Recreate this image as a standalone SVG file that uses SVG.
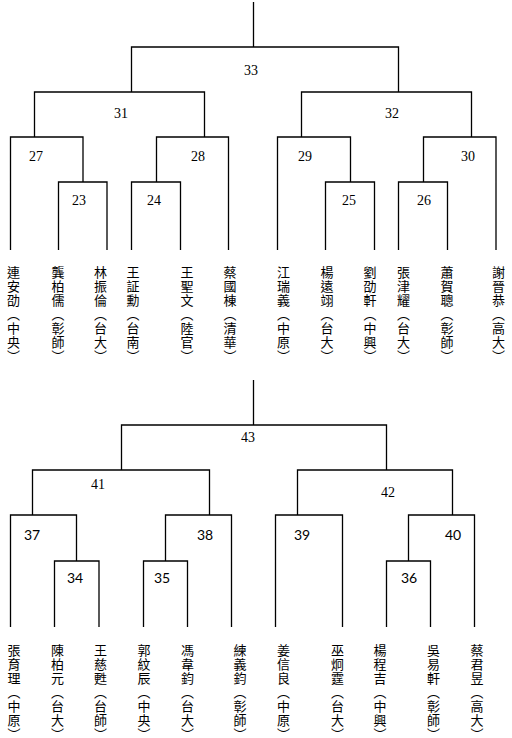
<svg xmlns="http://www.w3.org/2000/svg" width="512" height="738" viewBox="0 0 512 738">
<style>
.ln{fill:none;stroke:#000;stroke-width:1.3}
.ns{font-family:"Liberation Serif","Times New Roman",serif;font-size:14px;text-anchor:middle;fill:#000}
.nn{font-family:Lato,"Liberation Sans",sans-serif;font-size:14px;text-anchor:middle;fill:#000}
.pl{font-family:"Noto Sans CJK TC","Noto Sans CJK JP",sans-serif;font-size:13px;letter-spacing:1px;writing-mode:vertical-rl;fill:#000}
</style>
<rect width="512" height="738" fill="#fff"/>
<g id="connectors">
<path class="ln" d="M253.5 2V47M131.5 92V47H398.5V92M34.5 137V92H204.5V137M301.5 137V92H471.5V137M10.5 250V137H83V182M58.5 250V182H107V250M131.5 250V182H180.5V250M156.5 182V137H228.5V250M277.5 250V137H350.5V182M325.5 250V182H374.5V250M398.5 250V182H447.5V250M423.5 182V137H496V250"/>
<path class="ln" d="M253.5 380V425M121.5 470V425H386.5V470M32.5 515V470H209.5V515M297.5 515V470H452.5V515M10.5 627V515H76.5V561M54.5 627V561H99V627M165.5 561V515H231.5V627M143.5 627V561H187.5V627M275.5 627V515H342.5V627M386.5 627V561H430.5V627M408.5 561V515H474.5V627"/>
</g>
<g id="m33"><text class="ns" x="251" y="75">33</text></g>
<g id="m31"><text class="ns" x="121" y="118">31</text></g>
<g id="m32"><text class="ns" x="392" y="118">32</text></g>
<g id="m27"><text class="ns" x="36" y="161">27</text></g>
<g id="m28"><text class="ns" x="198" y="161">28</text></g>
<g id="m29"><text class="ns" x="305" y="161">29</text></g>
<g id="m30"><text class="ns" x="468" y="161">30</text></g>
<g id="m23"><text class="ns" x="79" y="205">23</text></g>
<g id="m24"><text class="ns" x="154" y="205">24</text></g>
<g id="m25"><text class="ns" x="349" y="205">25</text></g>
<g id="m26"><text class="ns" x="424" y="205">26</text></g>
<g id="m43"><text class="ns" x="248" y="442">43</text></g>
<g id="m41"><text class="ns" x="98" y="489">41</text></g>
<g id="m42"><text class="ns" x="388" y="497">42</text></g>
<g id="m37"><text class="nn" x="32" y="540">37</text></g>
<g id="m38"><text class="nn" x="205" y="540">38</text></g>
<g id="m39"><text class="nn" x="302" y="540">39</text></g>
<g id="m40"><text class="nn" x="453" y="540">40</text></g>
<g id="m34"><text class="nn" x="75" y="583">34</text></g>
<g id="m35"><text class="nn" x="162" y="583">35</text></g>
<g id="m36"><text class="nn" x="409" y="583">36</text></g>
<g id="p1"><text class="pl" x="13.5" y="266">連安劭（中央）</text></g>
<g id="p2"><text class="pl" x="58" y="266">龔柏儒（彰師）</text></g>
<g id="p3"><text class="pl" x="100.5" y="266">林振倫（台大）</text></g>
<g id="p4"><text class="pl" x="133" y="266">王証勳（台南）</text></g>
<g id="p5"><text class="pl" x="187" y="266">王聖文（陸官）</text></g>
<g id="p6"><text class="pl" x="230" y="266">蔡國棟（清華）</text></g>
<g id="p7"><text class="pl" x="283.5" y="266">江瑞義（中原）</text></g>
<g id="p8"><text class="pl" x="327" y="266">楊遠翊（台大）</text></g>
<g id="p9"><text class="pl" x="370" y="266">劉劭軒（中興）</text></g>
<g id="p10"><text class="pl" x="403.5" y="266">張津耀（台大）</text></g>
<g id="p11"><text class="pl" x="447" y="266">蕭賀聰（彰師）</text></g>
<g id="p12"><text class="pl" x="498.5" y="266">謝晉恭（高大）</text></g>
<g id="p13"><text class="pl" x="14" y="644">張育理（中原）</text></g>
<g id="p14"><text class="pl" x="57.5" y="644">陳柏元（台大）</text></g>
<g id="p15"><text class="pl" x="100.5" y="644">王慈甦（台師）</text></g>
<g id="p16"><text class="pl" x="144" y="644">郭紋辰（中央）</text></g>
<g id="p17"><text class="pl" x="187.5" y="644">馮韋鈞（台大）</text></g>
<g id="p18"><text class="pl" x="240" y="644">練義鈞（彰師）</text></g>
<g id="p19"><text class="pl" x="283.5" y="644">姜信良（中原）</text></g>
<g id="p20"><text class="pl" x="337.5" y="644">巫炯霆（台大）</text></g>
<g id="p21"><text class="pl" x="380" y="644">楊程吉（中興）</text></g>
<g id="p22"><text class="pl" x="433.5" y="644">吳易軒（彰師）</text></g>
<g id="p23"><text class="pl" x="477" y="644">蔡君昱（高大）</text></g>
</svg>
